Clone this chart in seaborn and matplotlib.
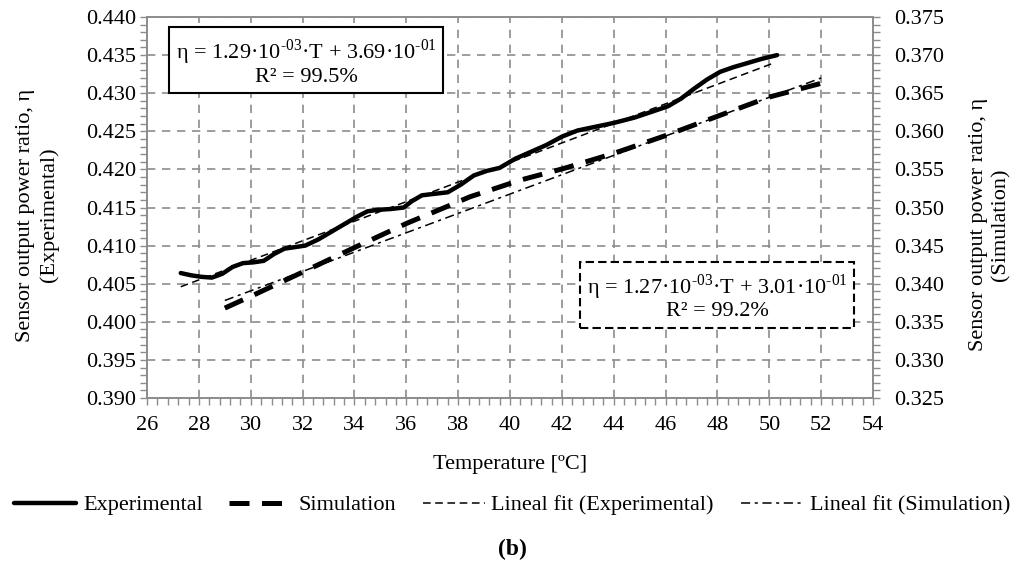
import numpy as np
import pandas as pd
import seaborn as sns
import matplotlib.pyplot as plt
from matplotlib.ticker import MultipleLocator, FormatStrFormatter

# values
exp_T = [27.3, 27.7, 28.1, 28.5, 28.9, 29.3, 29.7, 30.1, 30.5, 30.9, 31.3,
         31.7, 32.1, 32.6, 33.1, 33.6, 34.1, 34.5, 34.9, 35.4, 35.9, 36.2,
         36.6, 37.1, 37.6, 38.1, 38.6, 39.1, 39.6, 40.2, 40.8, 41.4, 42.0,
         42.6, 43.3, 44.0, 44.8, 45.5, 46.1, 46.6, 47.1, 47.6, 48.1, 48.6,
         49.1, 49.7, 50.3]
exp_eta = [0.4064, 0.4061, 0.4059, 0.4058, 0.4063, 0.4072, 0.4077, 0.4078,
           0.4080, 0.4089, 0.4096, 0.4098, 0.4100, 0.4108, 0.4118, 0.4128,
           0.4138, 0.4145, 0.4147, 0.4148, 0.4150, 0.4158, 0.4166, 0.4168,
           0.4170, 0.4180, 0.4192, 0.4198, 0.4202, 0.4214, 0.4223, 0.4232,
           0.4243, 0.4251, 0.4256, 0.4261, 0.4268, 0.4276, 0.4283, 0.4293,
           0.4306, 0.4318, 0.4328, 0.4334, 0.4339, 0.4345, 0.4350]

sim_T = [29.0, 30.1, 32.05, 34.1, 36.0, 37.55, 38.45, 40.4, 42.05, 44.0,
         46.05, 48.1, 50.0, 52.0]
sim_eta = [0.3368, 0.3385, 0.3416, 0.3449, 0.3479, 0.3501, 0.3514, 0.3536,
           0.3551, 0.3571, 0.3595, 0.3621, 0.3645, 0.3663]

fit_exp_T = [27.3, 50.2]
fit_exp_eta = [0.4046, 0.4340]
fit_sim_T = [29.0, 52.0]
fit_sim_eta = [0.3378, 0.3670]

eq_exp = "η = 1.29·10$^{\\mathrm{‐03}}$·T + 3.69·10$^{\\mathrm{‐01}}$\nR² = 99.5%"
eq_sim = "η = 1.27·10$^{\\mathrm{‐03}}$·T + 3.01·10$^{\\mathrm{‐01}}$\nR² = 99.2%"

FS = 16
GREY = '#8c8c8c'


def main():
    sns.set_style("ticks")
    plt.rcParams['font.family'] = ['Liberation Serif', 'DejaVu Serif']
    plt.rcParams['mathtext.fontset'] = 'custom'
    plt.rcParams['mathtext.rm'] = 'Liberation Serif'
    plt.rcParams['font.size'] = FS
    plt.rcParams['text.color'] = 'black'
    plt.rcParams['axes.labelcolor'] = 'black'
    plt.rcParams['xtick.color'] = 'black'
    plt.rcParams['ytick.color'] = 'black'

    fig = plt.figure(figsize=(10.24, 5.78), dpi=100)
    ax = fig.add_axes([0.1436, 0.3114, 0.709, 0.6592])
    ax2 = ax.twinx()

    df_exp = pd.DataFrame({'T': exp_T, 'eta': exp_eta})
    df_sim = pd.DataFrame({'T': sim_T, 'eta': sim_eta})
    df_fe = pd.DataFrame({'T': fit_exp_T, 'eta': fit_exp_eta})
    df_fs = pd.DataFrame({'T': fit_sim_T, 'eta': fit_sim_eta})

    sns.lineplot(data=df_exp, x='T', y='eta', ax=ax, color='black', lw=3.2,
                 label='Experimental', legend=False,
                 solid_joinstyle='round', solid_capstyle='round')
    sns.lineplot(data=df_fe, x='T', y='eta', ax=ax, color='black', lw=1.1,
                 linestyle=(0, (5, 3)),
                 label='Lineal fit (Experimental)', legend=False)
    sns.lineplot(data=df_sim, x='T', y='eta', ax=ax2, color='black', lw=3.6,
                 linestyle=(0, (4, 2.5)), label='Simulation', legend=False)
    sns.lineplot(data=df_fs, x='T', y='eta', ax=ax2, color='black', lw=1.1,
                 linestyle=(0, (6, 3, 2, 3)),
                 label='Lineal fit (Simulation)', legend=False)

    ax.set_xlim(26, 54)
    ax.set_ylim(0.390, 0.440)
    ax2.set_ylim(0.325, 0.375)
    ax.xaxis.set_major_locator(MultipleLocator(2))
    ax.xaxis.set_minor_locator(MultipleLocator(0.4))
    for a in (ax, ax2):
        a.yaxis.set_major_locator(MultipleLocator(0.005))
        a.yaxis.set_minor_locator(MultipleLocator(0.001))
        a.yaxis.set_major_formatter(FormatStrFormatter('%.3f'))
        a.tick_params(which='both', direction='out', color=GREY,
                      labelsize=FS, length=5, width=1)
        for s in a.spines.values():
            s.set_color(GREY)
            s.set_linewidth(1.2)
    ax.tick_params(axis='x', which='both', pad=8)
    ax.tick_params(axis='y', which='both', pad=3)
    ax2.tick_params(axis='y', which='both', pad=10)
    ax.grid(True, which='major', color=GREY, linestyle=(0, (5, 4)), lw=1.2)
    ax.set_axisbelow(True)

    ax.set_xlabel('Temperature [ºC]', fontsize=FS, labelpad=14)
    ax.set_ylabel('Sensor output power ratio, η\n(Experimental)',
                  fontsize=FS, linespacing=1.25, ha='center', va='center')
    ax.yaxis.set_label_coords(-0.151, 0.48)
    ax2.set_ylabel('Sensor output power ratio, η\n(Simulation)',
                   fontsize=FS, linespacing=1.25, rotation=90,
                   ha='center', va='center')
    ax2.yaxis.set_label_coords(1.161, 0.455)

    ax.text(32.13, 0.4341, eq_exp, ha='center', va='center', fontsize=FS,
            linespacing=1.05,
            bbox=dict(boxstyle='square,pad=0.3', fc='white', ec='black',
                      lw=1.5))
    ax.text(47.98, 0.4033, eq_sim, ha='center', va='center', fontsize=FS,
            linespacing=1.05,
            bbox=dict(boxstyle='square,pad=0.3', fc='white', ec='black',
                      lw=1.5, ls=(0, (4, 2))))

    h1, l1 = ax.get_legend_handles_labels()
    h2, l2 = ax2.get_legend_handles_labels()
    handles = [h1[0], h2[0], h1[1], h2[1]]
    labels = [l1[0], l2[0], l1[1], l2[1]]
    fig.legend(handles, labels, loc='center', bbox_to_anchor=(0.5, 0.126),
               ncol=4, frameon=False, fontsize=FS, handlelength=2.8,
               handletextpad=0.3, columnspacing=1.2)
    fig.text(0.5, 0.05, '(b)', ha='center', va='center', fontsize=17,
             fontweight='bold')

    fig.savefig('out.png', dpi=100)


if __name__ == "__main__":
    main()
